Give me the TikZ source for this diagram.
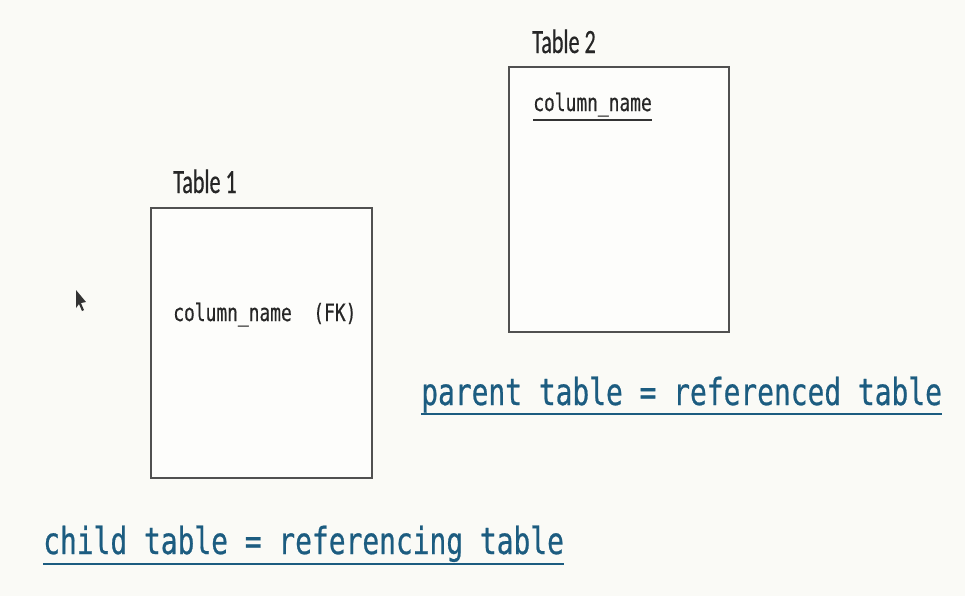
\documentclass[tikz,border=0pt]{standalone}
\usepackage{fontspec}
\usetikzlibrary{calc}
\newfontfamily\codefont[FakeStretch=0.75,FakeBold=0.4]{DejaVu Sans Mono}
\newfontfamily\bigfont[FakeStretch=0.75,FakeBold=0.6]{DejaVu Sans Mono}
\newfontfamily\labfont[FakeStretch=0.65,FakeBold=0.5]{Carlito}
\definecolor{bgc}{RGB}{250,250,246}
\definecolor{tealblue}{RGB}{28,92,128}
\definecolor{boxc}{RGB}{80,80,80}
\tikzset{
  tablebox/.style={draw=boxc, line width=1.1pt, inner sep=0pt, fill=white!60!bgc},
  tlabel/.style={anchor=base west, inner sep=0pt, font=\labfont\fontsize{25.5}{28}\selectfont, text=black!85},
  colname/.style={anchor=base west, inner sep=0pt, font=\codefont\fontsize{17.9}{20}\selectfont, text=black!85},
  bigtext/.style={anchor=base west, inner sep=0pt, font=\bigfont\fontsize{27.9}{32}\selectfont, text=tealblue},
  uline/.style={line width=2.2pt, tealblue},
}
\begin{document}
\begin{tikzpicture}[x=0.75pt,y=-0.75pt]
\fill[bgc] (0,0) rectangle (965,596);
\useasboundingbox (0,0) rectangle (965,596);
% tables
\node[tablebox, minimum width=165.75pt, minimum height=202.5pt] (t1) at (261.5,343) {};
\node[tablebox, minimum width=165pt, minimum height=198.75pt] (t2) at (619,199.5) {};
\node[tlabel] (t1lab) at (173,193) {Table 1};
\node[tlabel] (t2lab) at (532,53) {Table 2};
\node[colname] (fk) at (173,321) {column\_name\ \ (FK)};
\node[colname] (pk) at (533,111) {column\_name};
\draw[line width=2.2pt, black!80] ($(pk.base west)+(0,9)$) -- ($(pk.base east)+(0,9)$);
% captions
\node[bigtext] (parent) at (421,405) {parent table = referenced table};
\draw[uline] ($(parent.base west)+(0,9)$) -- ($(parent.base east)+(0,9)$);
\node[bigtext] (child) at (43,554) {child table = referencing table};
\draw[uline] ($(child.base west)+(0,10)$) -- ($(child.base east)+(0,10)$);
% mouse pointer
\fill[black!80] (76,290) -- (76,308) -- (79,304) -- (82,311) -- (84,310) -- (81,303) -- (86,302) -- cycle;
\end{tikzpicture}
\end{document}
